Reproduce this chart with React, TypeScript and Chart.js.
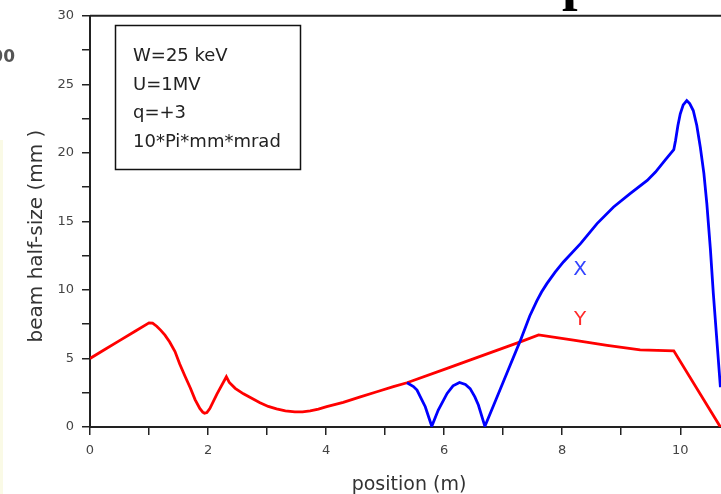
import React, { useEffect, useRef } from "react";
import { Chart, registerables } from "chart.js";

Chart.register(...registerables);

// Y (red) beam envelope
const redX = [0, 0.25, 0.5, 0.75, 1.0, 1.06, 1.13, 1.2, 1.27, 1.35, 1.44, 1.52, 1.61, 1.7, 1.78, 1.86, 1.91, 1.94, 1.98, 2.03, 2.15, 2.31, 2.36, 2.46, 2.6, 2.74, 2.88, 3.02, 3.16, 3.31, 3.47, 3.6, 3.73, 3.87, 4.01, 4.29, 4.58, 4.86, 5.14, 5.37, 6.05, 6.61, 7.29, 7.6, 8.19, 8.76, 9.32, 9.89, 10.68];
const redY = [5.0, 5.65, 6.3, 6.95, 7.6, 7.58, 7.35, 7.05, 6.7, 6.2, 5.5, 4.6, 3.7, 2.85, 2.0, 1.35, 1.08, 1.0, 1.05, 1.35, 2.4, 3.66, 3.25, 2.82, 2.42, 2.09, 1.77, 1.5, 1.32, 1.18, 1.1, 1.1, 1.17, 1.3, 1.48, 1.8, 2.2, 2.57, 2.94, 3.23, 4.28, 5.15, 6.21, 6.72, 6.34, 5.95, 5.62, 5.56, 0];

// X (blue) beam envelope (identical to Y before 5.37 m)
const blueX = [5.37, 5.48, 5.54, 5.62, 5.68, 5.79, 5.9, 6.05, 6.15, 6.26, 6.36, 6.44, 6.52, 6.58, 6.69, 6.84, 7.06, 7.29, 7.45, 7.57, 7.65, 7.74, 7.88, 8.02, 8.31, 8.59, 8.87, 9.15, 9.44, 9.58, 9.75, 9.89, 9.92, 9.96, 10.0, 10.05, 10.11, 10.16, 10.22, 10.28, 10.34, 10.4, 10.45, 10.51, 10.56, 10.68];
const blueY = [3.23, 2.95, 2.69, 2.0, 1.48, 0.05, 1.24, 2.45, 3.0, 3.25, 3.1, 2.8, 2.2, 1.6, 0.05, 1.6, 3.9, 6.3, 8.1, 9.2, 9.85, 10.46, 11.3, 12.04, 13.38, 14.84, 16.05, 17.02, 17.99, 18.6, 19.5, 20.23, 20.9, 22.0, 22.85, 23.5, 23.82, 23.6, 23.09, 22.0, 20.4, 18.5, 16.3, 13.0, 9.74, 2.9];

const xTicks = [0, 1, 2, 3, 4, 5, 6, 7, 8, 9, 10];
const xLabelled = [0, 2, 4, 6, 8, 10];
const yTicks = [0, 2.5, 5, 7.5, 10, 12.5, 15, 17.5, 20, 22.5, 25, 27.5, 30];
const yLabelled = [0, 5, 10, 15, 20, 25, 30];
const xMin = 0;
const xMax = 10.69;
const yMin = 0;
const yMax = 30;

const annotationLines = ["W=25 keV", "U=1MV", "q=+3", "10*Pi*mm*mrad"];
const seriesNames = ["X", "Y"];
const xTitle = "position (m)";
const yTitle = "beam half-size (mm )";
const strayText = "00";

const FONT = "'DejaVu Sans', 'Liberation Sans', sans-serif";

const overlayPlugin = {
  id: "overlay",
  afterDraw(chart: any) {
    const ctx = chart.ctx as CanvasRenderingContext2D;
    const a = chart.chartArea;
    ctx.save();
    // top frame line
    ctx.strokeStyle = "#222";
    ctx.lineWidth = 2;
    ctx.beginPath();
    ctx.moveTo(a.left, a.top);
    ctx.lineTo(a.right, a.top);
    ctx.stroke();

    // annotation box
    ctx.lineWidth = 1.5;
    ctx.strokeStyle = "#111";
    ctx.strokeRect(115.5, 25.5, 185, 144);
    ctx.fillStyle = "#222";
    ctx.font = `18px ${FONT}`;
    ctx.textAlign = "left";
    ctx.textBaseline = "alphabetic";
    annotationLines.forEach((t, i) => {
      ctx.fillText(t, 133, 61 + i * 28.7);
    });

    // series labels
    ctx.font = `20px ${FONT}`;
    ctx.textAlign = "center";
    ctx.textBaseline = "middle";
    ctx.fillStyle = "#3344ff";
    ctx.fillText(seriesNames[0], 580, 270);
    ctx.fillStyle = "#ff2a2a";
    ctx.fillText(seriesNames[1], 580, 320);

    // axis titles
    ctx.fillStyle = "#333";
    ctx.font = `19px ${FONT}`;
    ctx.textAlign = "center";
    ctx.textBaseline = "alphabetic";
    ctx.fillText(xTitle, 409, 490);

    ctx.save();
    ctx.translate(42, 236);
    ctx.rotate(-Math.PI / 2);
    ctx.font = `20px ${FONT}`;
    ctx.fillText(yTitle, 0, 0);
    ctx.restore();

    // stray fragments from the source page
    ctx.fillStyle = "#fafae6";
    ctx.fillRect(0, 140, 3, 354);
    ctx.fillStyle = "#555";
    ctx.font = `bold 17px ${FONT}`;
    ctx.textAlign = "right";
    ctx.fillText(strayText, 15, 62);
    ctx.fillStyle = "#000";
    ctx.font = "bold 56px 'Liberation Serif', serif";
    ctx.textAlign = "left";
    ctx.fillText("p", 562, -1.5);

    ctx.restore();
  },
};

export default function App() {
  const ref = useRef<HTMLCanvasElement | null>(null);

  useEffect(() => {
    if (!ref.current) return;
    const blue = blueX.map((x, i) => ({ x, y: blueY[i] }));
    const red = redX.map((x, i) => ({ x, y: redY[i] }));
    const chart = new Chart(ref.current, {
      type: "line",
      data: {
        datasets: [
          {
            label: seriesNames[0],
            data: blue,
            borderColor: "#0000ff",
            borderWidth: 2.8,
            pointRadius: 0,
            tension: 0,
            fill: false,
          },
          {
            label: seriesNames[1],
            data: red,
            borderColor: "#ff0000",
            borderWidth: 2.8,
            pointRadius: 0,
            tension: 0,
            fill: false,
          },
        ],
      },
      options: {
        animation: false,
        responsive: false,
        devicePixelRatio: 1,
        layout: { padding: { top: 15, right: 0, left: 0, bottom: 0 } },
        plugins: {
          legend: { display: false },
          tooltip: { enabled: false },
          title: { display: false },
        },
        scales: {
          x: {
            type: "linear",
            min: xMin,
            max: xMax,
            afterBuildTicks: (scale: any) => {
              scale.ticks = xTicks.map((v) => ({ value: v }));
            },
            afterFit: (scale: any) => {
              scale.height = 67;
            },
            ticks: {
              callback: (v: any) => (xLabelled.includes(Number(v)) ? String(v) : ""),
              font: { family: FONT, size: 13 },
              color: "#444",
              padding: 8,
              maxRotation: 0,
              autoSkip: false,
            },
            grid: {
              display: true,
              drawOnChartArea: false,
              drawTicks: true,
              tickLength: 8,
              color: "#222",
              lineWidth: 1.5,
            },
            border: { display: true, color: "#222", width: 2 },
          },
          y: {
            type: "linear",
            min: yMin,
            max: yMax,
            afterBuildTicks: (scale: any) => {
              scale.ticks = yTicks.map((v) => ({ value: v }));
            },
            afterFit: (scale: any) => {
              scale.width = 90;
            },
            ticks: {
              callback: (v: any) => (yLabelled.includes(Number(v)) ? String(v) : ""),
              font: { family: FONT, size: 13 },
              color: "#444",
              padding: 8,
              autoSkip: false,
            },
            grid: {
              display: true,
              drawOnChartArea: false,
              drawTicks: true,
              tickLength: 8,
              color: "#222",
              lineWidth: 1.5,
            },
            border: { display: true, color: "#222", width: 2 },
          },
        },
      },
      plugins: [overlayPlugin],
    });
    return () => chart.destroy();
  }, []);

  return (
    <div style={{ position: "absolute", left: 0, top: 0, width: 721, height: 494, background: "#fff" }}>
      <canvas ref={ref} width={721} height={494} style={{ display: "block" }} />
    </div>
  );
}
